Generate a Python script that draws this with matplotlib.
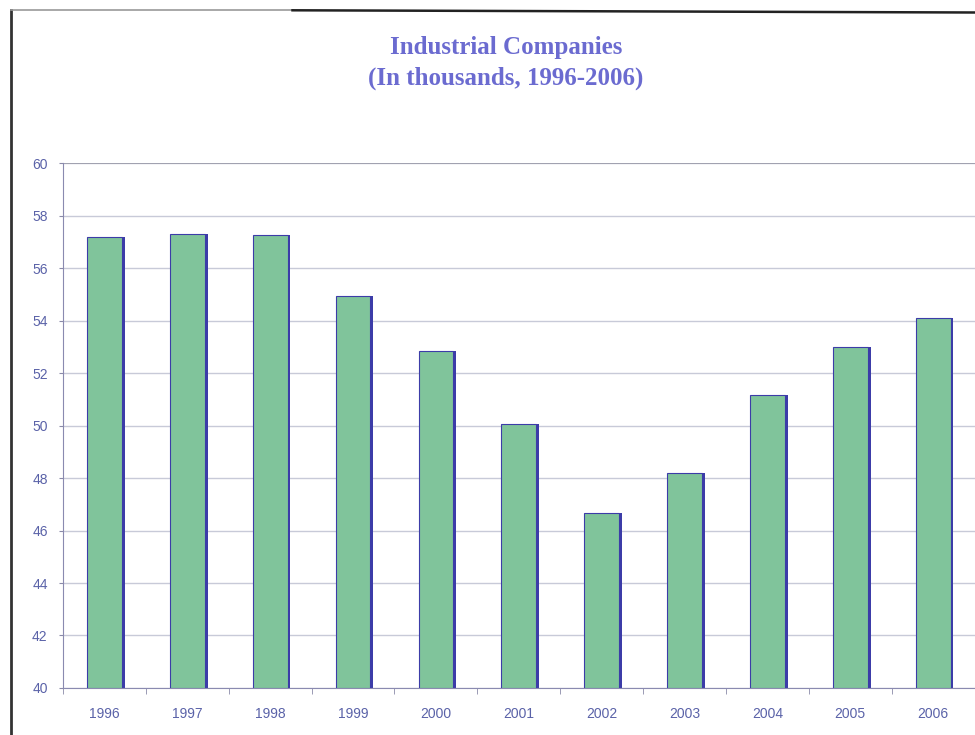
import matplotlib.pyplot as plt
import numpy as np
from matplotlib.lines import Line2D

# datos
years = ['1996', '1997', '1998', '1999', '2000', '2001',
         '2002', '2003', '2004', '2005', '2006']
companies = [57.2, 57.3, 57.25, 54.95, 52.85, 50.05,
             46.65, 48.2, 51.15, 53.0, 54.1]
y_ticks = [40, 42, 44, 46, 48, 50, 52, 54, 56, 58, 60]

text_color = '#5a62a8'
bar_color = '#80c49b'
edge_color = '#3c3ca8'

fig = plt.figure(figsize=(9.75, 7.35), dpi=100)
ax = fig.add_axes([0.0646, 0.064, 0.935, 0.714])

x = np.arange(len(years))
# sombra azul a la derecha de cada barra
ax.bar(x + 0.035, [v - 40 for v in companies], bottom=40, width=0.42,
       color=edge_color, zorder=2)
ax.bar(x, [v - 40 for v in companies], bottom=40, width=0.42,
       color=bar_color, edgecolor=edge_color, linewidth=0.8, zorder=3)

ax.set_xlim(-0.5, len(years) - 0.5)
ax.set_ylim(40, 60)
ax.set_yticks(y_ticks)
ax.set_yticklabels([str(t) for t in y_ticks], color=text_color,
                   fontsize=10, family='Liberation Sans')
ax.set_xticks(x)
ax.set_xticklabels(years, color=text_color, fontsize=10,
                   family='Liberation Sans')
ax.tick_params(axis='x', which='major', length=0, pad=14)
ax.set_xticks(np.arange(-0.5, len(years), 1), minor=True)
ax.tick_params(axis='x', which='minor', length=4, color='#8a8aa8')
ax.tick_params(axis='y', length=3, color='#8a8aa8', pad=8)

ax.grid(axis='y', color='#c8cad8', linewidth=1.0, zorder=0)
ax.set_axisbelow(True)
for side in ['top', 'right']:
    ax.spines[side].set_visible(False)
ax.spines['left'].set_color('#8a8ab0')
ax.spines['bottom'].set_color('#8a8ab0')
ax.axhline(60, color='#9a9aa8', linewidth=1.2, zorder=1)

# titulo
fig.text(0.519, 0.936, 'Industrial Companies', ha='center', va='center',
         fontsize=18, fontweight='bold', family='Liberation Serif',
         color='#6b6bd0')
fig.text(0.519, 0.894, '(In thousands, 1996-2006)', ha='center', va='center',
         fontsize=18, fontweight='bold', family='Liberation Serif',
         color='#6b6bd0')

# bordes del escaneo
fig.add_artist(Line2D([0.011, 0.011], [0.0, 0.986], transform=fig.transFigure,
                      color='#333333', linewidth=2))
fig.add_artist(Line2D([0.011, 0.3], [0.986, 0.986], transform=fig.transFigure,
                      color='#999999', linewidth=1.2))
fig.add_artist(Line2D([0.3, 1.0], [0.986, 0.983], transform=fig.transFigure,
                      color='#222222', linewidth=1.8))

fig.savefig('out.png', dpi=100)
